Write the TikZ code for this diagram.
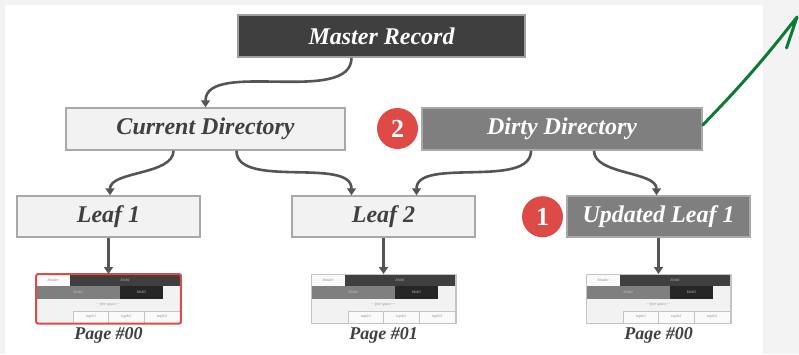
\documentclass[tikz,border=0pt]{standalone}
\usepackage{fontspec}
\setmainfont{Liberation Serif}
\usetikzlibrary{arrows.meta,calc}

\definecolor{ink}{HTML}{404040}
\definecolor{boxlight}{HTML}{F2F2F2}
\definecolor{boxmid}{HTML}{7F7F7F}
\definecolor{boxdark}{HTML}{3F3F3F}
\definecolor{boxblack}{HTML}{262626}
\definecolor{edgegray}{HTML}{A8A8A8}
\definecolor{arrowgray}{HTML}{555555}
\definecolor{badge}{HTML}{DE4B47}
\definecolor{pen}{HTML}{0E7A33}
\definecolor{canvas}{HTML}{F3F3F3}
\definecolor{cellline}{HTML}{C4C4C4}
\definecolor{celltext}{HTML}{8C8C8C}

\tikzset{
  box/.style={draw=edgegray, line width=1.5pt, minimum width=183pt, minimum height=41pt,
    inner sep=0pt, font=\fontsize{24}{24}\selectfont\bfseries\itshape},
  lightbox/.style={box, fill=boxlight, text=ink},
  midbox/.style={box, fill=boxmid, text=white},
  darkbox/.style={box, fill=boxdark, draw=gray!75, text=white},
  badgenode/.style={circle, fill=badge, text=white, minimum size=41pt, inner sep=0pt,
    font=\fontsize{26}{26}\selectfont\bfseries},
  link/.style={draw=arrowgray, line width=2.6pt, -{Triangle[length=7pt,width=9pt]}},
  sweep/.style={out=-90, in=90, looseness=0.8},
  pagebox/.style={draw=cellline, line width=0.6pt, fill=boxlight, minimum width=144pt,
    minimum height=49pt, inner sep=0pt},
  tiny/.style={font=\fontsize{4}{4}\selectfont\itshape, inner sep=0pt},
  pagelabel/.style={font=\fontsize{18}{18}\selectfont\bfseries\itshape, text=ink, inner sep=0pt},
  cell/.style={draw=cellline, line width=0.5pt, fill=white!60!boxlight},
}

% A slotted page: header, three blobs, free space and three tuples.
% #1 = node name, #2 = position of its top centre
\newcommand\slottedpage[2]{%
  \node[pagebox, anchor=north] (#1) at #2 {};
  \begin{scope}[shift={(#1.north west)}]
    \filldraw[cell] (0,0) rectangle (34,-12);
    \node[tiny, text=celltext] at (17,-6) {header};
    \fill[boxdark] (34,0) rectangle (144,-12);
    \node[tiny, text=white!75!black] at (89,-6) {blob1};
    \fill[boxmid] (0,-12) rectangle (84,-24.5);
    \node[tiny, text=white!80!black] at (42,-18.2) {blob2};
    \fill[boxblack] (84,-12) rectangle (126.5,-24.5);
    \node[tiny, text=white!75!black] at (105.2,-18.2) {blob3};
    \node[tiny, text=celltext] at (72,-30.5) {··· free space ···};
    \filldraw[cell] (37.5,-37) rectangle (72.5,-49);
    \filldraw[cell] (72.5,-37) rectangle (108,-49);
    \filldraw[cell] (108,-37) rectangle (144,-49);
    \node[tiny, text=celltext] at (55,-43) {tuple1};
    \node[tiny, text=celltext] at (90.2,-43) {tuple2};
    \node[tiny, text=celltext] at (126,-43) {tuple3};
  \end{scope}
  \draw[cellline, line width=0.6pt] (#1.north west) rectangle (#1.south east);
}

\begin{document}
\begin{tikzpicture}[x=1pt,y=1pt]
  \useasboundingbox (0,0) rectangle (799,-354);
  \fill[canvas] (0,0) rectangle (799,-354);
  \fill[white] (5,-5) rectangle (763,-354);

  % tree of directory and leaf nodes
  \node[darkbox, minimum width=287pt, minimum height=42pt] (master) at (381.5,-36) {Master Record};
  \node[lightbox, minimum width=279pt, minimum height=42pt] (current) at (205.5,-129) {Current Directory};
  \node[midbox, minimum width=280pt, minimum height=42pt] (dirty) at (562,-129) {Dirty Directory};
  \node[lightbox] (leaf1) at (108.5,-216.5) {Leaf 1};
  \node[lightbox] (leaf2) at (383.5,-216.5) {Leaf 2};
  \node[midbox] (upd) at (658.5,-216.5) {Updated Leaf 1};

  % step badges
  \node[badgenode] (b2) at (397.5,-128.5) {2};
  \node[badgenode] (b1) at (542.5,-216.7) {1};

  % pages
  \slottedpage{p0}{(leaf1.south |- 0,-274)}
  \slottedpage{p1}{(leaf2.south |- 0,-274)}
  \slottedpage{p2}{(upd.south |- 0,-274)}
  \draw[badge, line width=2pt, rounded corners=2pt] (p0.north west) rectangle (p0.south east);

  \node[pagelabel, anchor=base] (l0) at (p0.south |- 0,-339) {Page \#00};
  \node[pagelabel, anchor=base] (l1) at (p1.south |- 0,-339) {Page \#01};
  \node[pagelabel, anchor=base] (l2) at (p2.south |- 0,-339) {Page \#00};

  % pointers
  \draw[link] ([xshift=-30pt]master.south) to[sweep] (current.north);
  \draw[link] ([xshift=-32pt]current.south) to[sweep] ([xshift=1.5pt]leaf1.north);
  \draw[link] ([xshift=31pt]current.south) to[sweep] ([xshift=-32pt]leaf2.north);
  \draw[link] ([xshift=-31pt]dirty.south) to[sweep] ([xshift=33pt]leaf2.north);
  \draw[link] ([xshift=32pt]dirty.south) to[sweep] ([xshift=-2pt]upd.north);
  \draw[link] (leaf1.south) -- (p0.north);
  \draw[link] (leaf2.south) -- (p1.north);
  \draw[link] (upd.south) -- (p2.north);

  % hand-drawn pen stroke
  \coordinate (pentip) at (797,-17);
  \coordinate (penbarb) at (786.5,-48);
  \draw[pen, line width=3pt, line cap=round, line join=round]
    ([yshift=4pt]dirty.east) to[bend right=3] (pentip) -- (penbarb);
\end{tikzpicture}
\end{document}
